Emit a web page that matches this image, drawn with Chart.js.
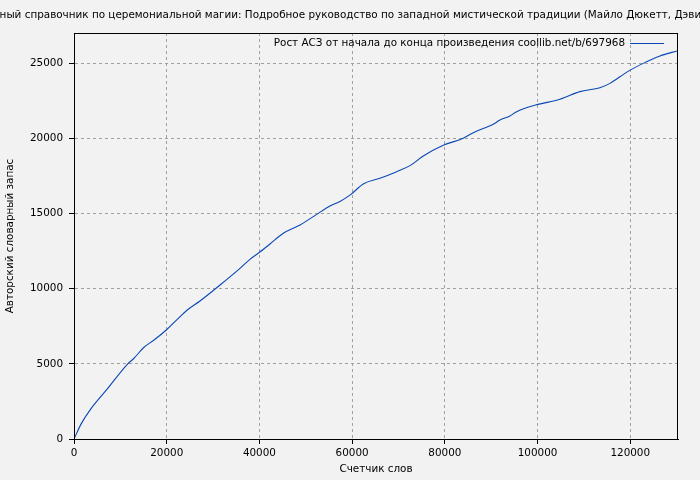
<!DOCTYPE html>
<html>
<head>
<meta charset="utf-8">
<script src="https://cdn.jsdelivr.net/npm/chart.js@4/dist/chart.umd.min.js"></script>
<style>
  body { margin: 0; background: #f2f2f2; }
  canvas { display: block; }
</style>
</head>
<body>
<canvas id="myChart" width="700" height="480"></canvas>
<script>
const chartTitle = 'Полный справочник по церемониальной магии: Подробное руководство по западной мистической традиции (Майло Дюкетт, Дэвид Шумейкер)';
const seriesLabel = 'Рост АСЗ от начала до конца произведения coollib.net/b/697968';
const xTitle = 'Счетчик слов';
const yTitle = 'Авторский словарный запас';

// word counter (x) and vocabulary size (y)
const wordCount = [0, 1600, 3600, 7190, 11500, 12940, 15100, 17260, 19910, 22280, 24440,
  27180, 31490, 35810, 37960, 39750, 42280, 45150, 48750, 52350, 55220, 57380, 59750,
  62400, 66000, 69610, 72480, 75350, 79660, 83970, 86130, 90440, 91890, 94050, 95490,
  99590, 104830, 109140, 113460, 115620, 119430, 122800, 126400, 130300];
const vocabulary = [0, 1040, 1990, 3330, 4970, 5370, 6100, 6580, 7250, 7960, 8580,
  9180, 10240, 11350, 11950, 12350, 12970, 13680, 14230, 14940, 15490, 15800, 16270,
  16960, 17340, 17780, 18180, 18820, 19530, 20000, 20370, 20930, 21210, 21480, 21770,
  22210, 22590, 23100, 23360, 23650, 24430, 24980, 25470, 25820];

const xTicks = [0, 20000, 40000, 60000, 80000, 100000, 120000];
const yTicks = [0, 5000, 10000, 15000, 20000, 25000];
const xMax = 130300;
const yMax = 27000;
const lineColor = '#0a47b5';
const font = 'DejaVu Sans';

const points = wordCount.map((x, i) => ({ x: x, y: vocabulary[i] }));

// background, frame, title and legend like gnuplot draws them
const decorations = {
  id: 'decorations',
  beforeDraw(chart) {
    const ctx = chart.ctx;
    ctx.save();
    ctx.fillStyle = '#f2f2f2';
    ctx.fillRect(0, 0, chart.width, chart.height);
    ctx.restore();
  },
  afterDraw(chart) {
    const ctx = chart.ctx;
    const a = chart.chartArea;
    ctx.save();
    ctx.strokeStyle = '#000';
    ctx.lineWidth = 1;
    ctx.strokeRect(Math.round(a.left) + 0.5, Math.round(a.top) + 0.5,
      Math.round(a.right - a.left) - 1, Math.round(a.bottom - a.top));

    ctx.fillStyle = '#000';
    ctx.font = '10.4px "' + font + '"';
    ctx.textBaseline = 'middle';
    ctx.textAlign = 'center';
    ctx.fillText(chartTitle, (a.left + a.right) / 2, 15);

    ctx.textAlign = 'right';
    ctx.fillText(seriesLabel, a.right - 53, 43);
    ctx.strokeStyle = lineColor;
    ctx.beginPath();
    ctx.moveTo(a.right - 48, 43.5);
    ctx.lineTo(a.right - 14, 43.5);
    ctx.stroke();
    ctx.restore();
  }
};

const tickFont = { family: font, size: 10.4 };

new Chart(document.getElementById('myChart'), {
  type: 'line',
  data: {
    datasets: [{
      label: seriesLabel,
      data: points,
      borderColor: lineColor,
      borderWidth: 1.1,
      pointRadius: 0,
      cubicInterpolationMode: 'monotone',
      fill: false
    }]
  },
  options: {
    responsive: false,
    animation: false,
    layout: { padding: { top: 33, right: 22, left: 0, bottom: 0 } },
    plugins: {
      legend: { display: false },
      title: { display: false },
      tooltip: { enabled: false }
    },
    scales: {
      x: {
        type: 'linear',
        min: 0,
        max: xMax,
        afterFit(scale) { scale.height = 41; },
        afterBuildTicks(scale) { scale.ticks = xTicks.map(v => ({ value: v })); },
        ticks: {
          maxRotation: 0,
          autoSkip: false,
          padding: 3,
          color: '#000',
          font: tickFont,
          callback: (v) => String(v)
        },
        grid: { color: '#a0a0a0', tickColor: '#000', tickLength: 5, tickBorderDash: [] },
        border: { display: true, color: '#000', dash: [3, 3] },
        title: { display: true, text: xTitle, color: '#000', font: tickFont }
      },
      y: {
        min: 0,
        max: yMax,
        afterFit(scale) { scale.width = 74; },
        afterBuildTicks(scale) { scale.ticks = yTicks.map(v => ({ value: v })); },
        ticks: {
          autoSkip: false,
          padding: 6,
          color: '#000',
          font: tickFont,
          callback: (v) => String(v)
        },
        grid: { color: '#a0a0a0', tickColor: '#000', tickLength: 5, tickBorderDash: [] },
        border: { display: true, color: '#000', dash: [3, 3] },
        title: { display: true, text: yTitle, color: '#000', font: tickFont }
      }
    }
  },
  plugins: [decorations]
});
</script>
</body>
</html>
